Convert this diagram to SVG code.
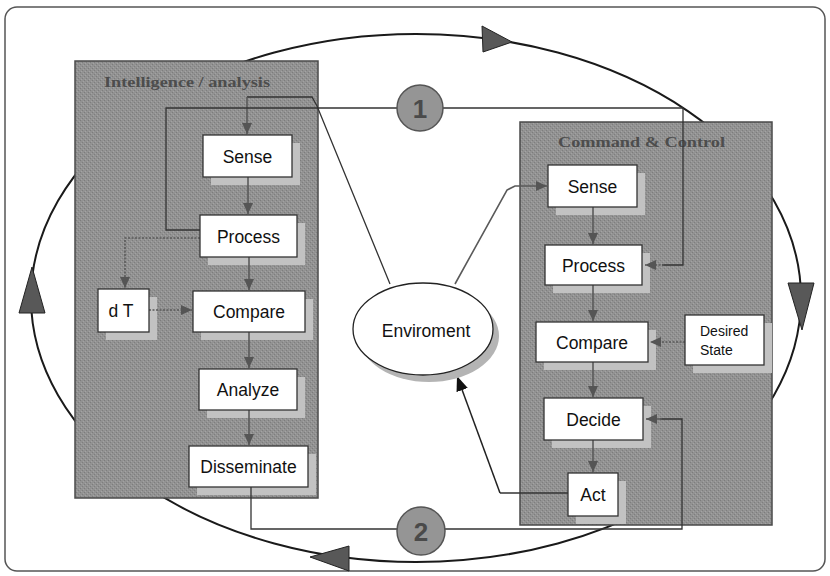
<svg xmlns="http://www.w3.org/2000/svg" width="830" height="576" viewBox="0 0 830 576">
  <defs>
    <pattern id="grain" width="4" height="4" patternUnits="userSpaceOnUse">
      <rect width="4" height="4" fill="#929292"/>
      <rect x="0" y="0" width="1" height="1" fill="#7c7c7c"/>
      <rect x="2" y="2" width="1" height="1" fill="#7e7e7e"/>
      <rect x="1" y="3" width="1" height="1" fill="#a4a4a4"/>
      <rect x="3" y="1" width="1" height="1" fill="#a2a2a2"/>
    </pattern>
    <marker id="tip" markerUnits="userSpaceOnUse" markerWidth="12" markerHeight="10" refX="11" refY="5" orient="auto">
      <path d="M0,0 L11,5 L0,10 z" fill="#555"/>
    </marker>
    <marker id="tipBig" markerUnits="userSpaceOnUse" markerWidth="16" markerHeight="12" refX="15" refY="6" orient="auto">
      <path d="M0,0 L15,6 L0,12 z" fill="#111"/>
    </marker>
    <style>
      .frame { fill: none; stroke: #555; stroke-width: 1.5; }
      .orbit { fill: none; stroke: #1a1a1a; stroke-width: 2; }
      .orbitHead { fill: #585858; stroke: #222; stroke-width: 1; }
      .panel { fill: url(#grain); stroke: #4a4a4a; stroke-width: 1.5; }
      .title { font-family: "Liberation Serif", serif; font-weight: bold; font-size: 15px; fill: #4d4d4d; }
      .box { fill: #fff; stroke: #333; stroke-width: 1.3; }
      .shadow { fill: #c2c2c2; }
      .label { font-family: "Liberation Sans", Arial, sans-serif; font-size: 17.5px; fill: #111; text-anchor: middle; }
      .small { font-family: "Liberation Sans", Arial, sans-serif; font-size: 14px; fill: #111; }
      .flow { fill: none; stroke: #5a5a5a; stroke-width: 1.6; marker-end: url(#tip); }
      .dotted { fill: none; stroke: #5a5a5a; stroke-width: 1.6; stroke-dasharray: 2 1.5; marker-end: url(#tip); }
      .link { fill: none; stroke: #333; stroke-width: 1.3; }
      .badge { fill: #959595; stroke: #555; stroke-width: 1.5; }
      .badgeText { font-family: "Liberation Sans", Arial, sans-serif; font-weight: bold; font-size: 26px; fill: #4a4a4a; text-anchor: middle; }
    </style>
  </defs>

  <!-- outer frame -->
  <rect class="frame" x="5" y="7" width="820" height="564" rx="12" ry="12"/>

  <!-- big cycle ellipse with direction heads -->
  <g id="cycle">
    <ellipse class="orbit" cx="416" cy="298" rx="385" ry="264"/>
    <path class="orbitHead" d="M482,26 L512,42 L483,52 z"/>
    <path class="orbitHead" d="M788,283 L814,283 L802,330 z"/>
    <path class="orbitHead" d="M32,267 L45,313 L19,313 z"/>
    <path class="orbitHead" d="M349,546 L349,571 L310,557 z"/>
  </g>

  <!-- panels -->
  <g id="intelligence-panel">
    <rect class="panel" x="75" y="61" width="243" height="437"/>
    <text class="title" x="104" y="87" textLength="166" lengthAdjust="spacingAndGlyphs">Intelligence / analysis</text>
  </g>
  <g id="command-panel">
    <rect class="panel" x="520" y="122" width="252" height="403"/>
    <text class="title" x="558" y="147" textLength="167" lengthAdjust="spacingAndGlyphs">Command &amp; Control</text>
  </g>

  <!-- box shadows -->
  <g id="shadows">
    <rect class="shadow" x="211" y="143" width="89" height="42"/>
    <rect class="shadow" x="208" y="223" width="97" height="42"/>
    <rect class="shadow" x="106" y="297" width="51" height="43"/>
    <rect class="shadow" x="201" y="299" width="112" height="41"/>
    <rect class="shadow" x="207" y="377" width="98" height="41"/>
    <rect class="shadow" x="197" y="454" width="119" height="41"/>
    <rect class="shadow" x="556" y="173" width="89" height="42"/>
    <rect class="shadow" x="553" y="253" width="97" height="40"/>
    <rect class="shadow" x="544" y="330" width="112" height="40"/>
    <rect class="shadow" x="693" y="323" width="79" height="50"/>
    <rect class="shadow" x="552" y="406" width="99" height="42"/>
    <rect class="shadow" x="576" y="481" width="50" height="43"/>
  </g>

  <!-- connectors -->
  <g id="connectors">
    <!-- intelligence chain -->
    <path class="flow" d="M248,177 L248,214"/>
    <path class="flow" d="M249,257 L249,290"/>
    <path class="flow" d="M249,332 L249,368"/>
    <path class="flow" d="M249,410 L249,445"/>
    <path class="dotted" d="M200,238 L125,238 L125,288"/>
    <path class="dotted" d="M149,310 L192,310"/>
    <!-- environment to intelligence sense -->
    <path class="link" d="M390,284 L317,106 L312,97 L247,97"/>
    <path class="flow" d="M247,97 L247,134"/>
    <!-- command chain -->
    <path class="flow" d="M593,207 L593,244"/>
    <path class="flow" d="M593,285 L593,321"/>
    <path class="flow" d="M593,362 L593,397"/>
    <path class="flow" d="M593,440 L593,472"/>
    <path class="dotted" d="M685,342 L650,342"/>
    <!-- environment to command sense -->
    <path class="flow" d="M455,284 L507,190 L515,186 L547,186"/>
    <!-- loop 1: intelligence process to command process -->
    <path class="link" d="M200,230 L166,230 L166,108 L683,108 L683,265 L662,265"/>
    <path class="dotted" d="M664,265 L645,265"/>
    <!-- loop 2: disseminate to decide -->
    <path class="link" d="M251,487 L251,529 L682,529 L682,419 L660,419"/>
    <path class="flow" d="M662,419 L646,419"/>
    <!-- act back to environment -->
    <path class="link" d="M568,493 L500,493"/>
    <path fill="none" stroke="#222" stroke-width="1.5" marker-end="url(#tipBig)" d="M500,493 L457,376"/>
  </g>

  <!-- intelligence / analysis nodes -->
  <g id="i-sense"><rect class="box" x="203" y="135" width="89" height="42"/><text class="label" x="247.5" y="162.5">Sense</text></g>
  <g id="i-process"><rect class="box" x="200" y="215" width="97" height="42"/><text class="label" x="248.5" y="242.5">Process</text></g>
  <g id="i-dt"><rect class="box" x="98" y="289" width="51" height="43"/><text class="label" x="121" y="316.5">d T</text></g>
  <g id="i-compare"><rect class="box" x="193" y="291" width="112" height="41"/><text class="label" x="249" y="318">Compare</text></g>
  <g id="i-analyze"><rect class="box" x="199" y="369" width="98" height="41"/><text class="label" x="248" y="396">Analyze</text></g>
  <g id="i-disseminate"><rect class="box" x="189" y="446" width="119" height="41"/><text class="label" x="248.5" y="473">Disseminate</text></g>

  <!-- command & control nodes -->
  <g id="c-sense"><rect class="box" x="548" y="165" width="89" height="42"/><text class="label" x="592.5" y="192.5">Sense</text></g>
  <g id="c-process"><rect class="box" x="545" y="245" width="97" height="40"/><text class="label" x="593.5" y="271.5">Process</text></g>
  <g id="c-compare"><rect class="box" x="536" y="322" width="112" height="40"/><text class="label" x="592" y="348.5">Compare</text></g>
  <g id="c-desired"><rect class="box" x="685" y="315" width="79" height="50"/><text class="small" x="700" y="336">Desired</text><text class="small" x="700" y="355">State</text></g>
  <g id="c-decide"><rect class="box" x="544" y="398" width="99" height="42"/><text class="label" x="593.5" y="425.5">Decide</text></g>
  <g id="c-act"><rect class="box" x="568" y="473" width="50" height="43"/><text class="label" x="593" y="500.5">Act</text></g>

  <!-- environment -->
  <g id="environment">
    <ellipse cx="429" cy="336" rx="70" ry="46" fill="#b4b4b4"/>
    <ellipse cx="423" cy="329" rx="70" ry="46" fill="#fff" stroke="#222" stroke-width="1.3"/>
    <text class="label" x="426" y="337">Enviroment</text>
  </g>

  <!-- loop badges -->
  <g id="badge-1"><circle class="badge" cx="420" cy="108" r="23"/><text class="badgeText" x="420" y="118">1</text></g>
  <g id="badge-2"><circle class="badge" cx="421" cy="531" r="24"/><text class="badgeText" x="421" y="541">2</text></g>
</svg>
